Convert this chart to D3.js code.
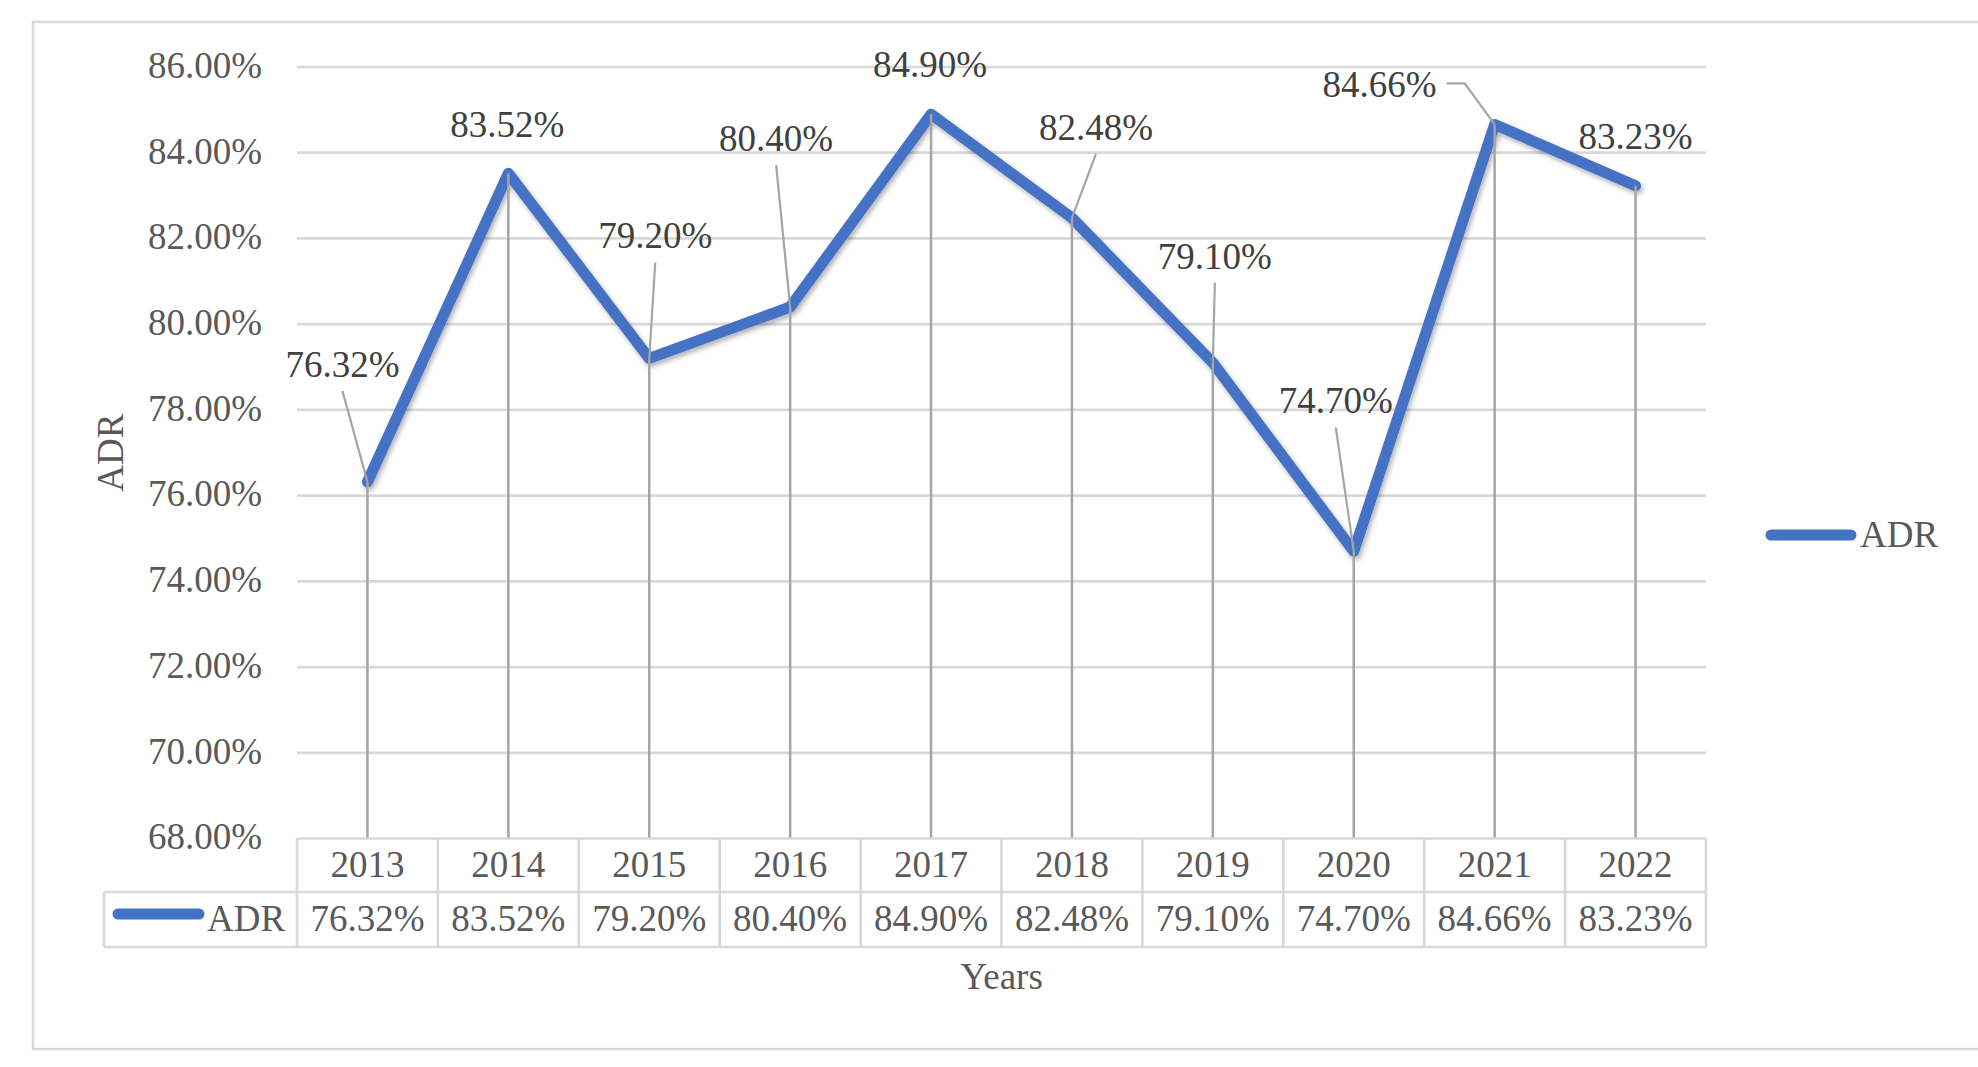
<!DOCTYPE html>
<html>
<head>
<meta charset="utf-8">
<script src="https://cdn.jsdelivr.net/npm/d3@7"></script>
<style>
  html, body { margin: 0; padding: 0; background: #fff; }
  svg { display: block; }
  text { font-family: "Liberation Serif", "Times New Roman", serif; }
</style>
</head>
<body>
<script>
// ---- data ----
const years = ["2013", "2014", "2015", "2016", "2017", "2018", "2019", "2020", "2021", "2022"];
const adr = [76.32, 83.52, 79.20, 80.40, 84.90, 82.48, 79.10, 74.70, 84.66, 83.23];
const yTicks = [68, 70, 72, 74, 76, 78, 80, 82, 84, 86];
const seriesName = "ADR";
const xTitle = "Years";
const yTitle = "ADR";

// ---- layout (label placement, px relative to point) ----
const labelOffsets = [[-25, -117], [-1, -48], [6, -122], [-14, -168], [-1, -49],
                      [24, -90], [2, -106], [-18, -150], [-115, -39], [0, -49]];
const leaderType = ["bottom", "none", "bottom", "bottom", "none",
                    "bottom", "bottom", "bottom", "side", "none"];

const W = 1978, H = 1067;
const plot = { left: 297, right: 1706, top: 67, bottom: 838.5 };
const fs = 37;
const blue = "#4472C4";

const svg = d3.select("body").append("svg").attr("width", W).attr("height", H);

const defs = svg.append("defs");
const f = defs.append("filter").attr("id", "shadow").attr("x", "-10%").attr("y", "-10%").attr("width", "120%").attr("height", "130%");
f.append("feDropShadow").attr("dx", 2).attr("dy", 3).attr("stdDeviation", 2.5)
  .attr("flood-color", "#000").attr("flood-opacity", 0.3);

// outer frame
svg.append("rect").attr("x", 33).attr("y", 22).attr("width", 2000).attr("height", 1027)
  .attr("fill", "none").attr("stroke", "#d9d9d9").attr("stroke-width", 2.5);

const x = d3.scaleBand().domain(years).range([plot.left, plot.right]).padding(0);
const y = d3.scaleLinear().domain([68, 86]).range([plot.bottom, plot.top]);
const cx = d => x(d) + x.bandwidth() / 2;

// gridlines
svg.append("g").selectAll("line").data(yTicks.filter(t => t > 68)).join("line")
  .attr("x1", plot.left).attr("x2", plot.right)
  .attr("y1", d => y(d)).attr("y2", d => y(d))
  .attr("stroke", "#d9d9d9").attr("stroke-width", 2.7);

// y tick labels
const yAxis = d3.axisLeft(y).tickValues(yTicks).tickFormat(d => d.toFixed(2) + "%").tickSize(0).tickPadding(35);
const ya = svg.append("g").attr("transform", `translate(${plot.left},0)`).call(yAxis);
ya.select(".domain").remove();
ya.selectAll("text").attr("font-size", fs).attr("fill", "#595959")
  .attr("font-family", "Liberation Serif, Times New Roman, serif").attr("dy", "0.28em");

// series line
const pts = years.map((yr, i) => [cx(yr), y(adr[i])]);
svg.append("path").datum(pts)
  .attr("d", d3.line())
  .attr("fill", "none").attr("stroke", blue).attr("stroke-width", 11)
  .attr("stroke-linejoin", "round").attr("stroke-linecap", "round")
  .attr("filter", "url(#shadow)");

// drop lines
svg.append("g").selectAll("line").data(years).join("line")
  .attr("x1", d => cx(d)).attr("x2", d => cx(d))
  .attr("y1", (d, i) => y(adr[i])).attr("y2", plot.bottom)
  .attr("stroke", "#a5a5a5").attr("stroke-width", 2.5);

// data labels + leaders
const lab = svg.append("g");
years.forEach((yr, i) => {
  const px = cx(yr), py = y(adr[i]);
  const lx = px + labelOffsets[i][0], ly = py + labelOffsets[i][1];
  const t = lab.append("text").attr("x", lx).attr("y", ly + 12)
    .attr("text-anchor", "middle").attr("font-size", fs).attr("fill", "#404040")
    .text(adr[i].toFixed(2) + "%");
  if (leaderType[i] === "bottom") {
    lab.append("line").attr("x1", lx).attr("y1", ly + 26).attr("x2", px).attr("y2", py)
      .attr("stroke", "#a5a5a5").attr("stroke-width", 2.2);
  } else if (leaderType[i] === "side") {
    const bb = t.node().getBBox();
    const sx = bb.x + bb.width + 10;
    lab.append("path").attr("d", `M${sx},${ly - 2}H${sx + 18}L${px},${py}`)
      .attr("fill", "none").attr("stroke", "#a5a5a5").attr("stroke-width", 2.2);
  }
});

// data table
const tbl = svg.append("g");
const rowTop = plot.bottom, rowMid = 892, rowBot = 947, tblLeft = 104;
const border = { stroke: "#d9d9d9", "stroke-width": 2.7 };
function hline(x1, x2, yy) {
  tbl.append("line").attr("x1", x1).attr("x2", x2).attr("y1", yy).attr("y2", yy)
    .attr("stroke", border.stroke).attr("stroke-width", border["stroke-width"]);
}
function vline(xx, y1, y2) {
  tbl.append("line").attr("x1", xx).attr("x2", xx).attr("y1", y1).attr("y2", y2)
    .attr("stroke", border.stroke).attr("stroke-width", border["stroke-width"]);
}
hline(plot.left, plot.right, rowTop);
hline(tblLeft, plot.right, rowMid);
hline(tblLeft, plot.right, rowBot);
vline(tblLeft, rowMid, rowBot);
years.forEach(yr => vline(x(yr), rowTop, rowBot));
vline(plot.right, rowTop, rowBot);

tbl.selectAll("text.yr").data(years).join("text").attr("class", "yr")
  .attr("x", d => cx(d)).attr("y", 877).attr("text-anchor", "middle")
  .attr("font-size", fs).attr("fill", "#595959").text(d => d);
tbl.selectAll("text.val").data(adr).join("text").attr("class", "val")
  .attr("x", (d, i) => cx(years[i])).attr("y", 931).attr("text-anchor", "middle")
  .attr("font-size", fs).attr("fill", "#595959").text(d => d.toFixed(2) + "%");

// table legend key
tbl.append("line").attr("x1", 118).attr("x2", 199).attr("y1", 914).attr("y2", 914)
  .attr("stroke", blue).attr("stroke-width", 11).attr("stroke-linecap", "round");
tbl.append("text").attr("x", 207).attr("y", 931).attr("font-size", fs).attr("fill", "#595959").text(seriesName);

// axis titles
svg.append("text").attr("x", (plot.left + plot.right) / 2).attr("y", 989)
  .attr("text-anchor", "middle").attr("font-size", fs).attr("fill", "#595959").text(xTitle);
svg.append("text").attr("transform", `translate(123,${(plot.top + plot.bottom) / 2}) rotate(-90)`)
  .attr("text-anchor", "middle").attr("font-size", fs).attr("fill", "#595959").text(yTitle);

// legend
svg.append("line").attr("x1", 1771).attr("x2", 1851).attr("y1", 535).attr("y2", 535)
  .attr("stroke", blue).attr("stroke-width", 11).attr("stroke-linecap", "round");
svg.append("text").attr("x", 1860).attr("y", 547).attr("font-size", fs).attr("fill", "#595959").text(seriesName);
</script>
</body>
</html>
